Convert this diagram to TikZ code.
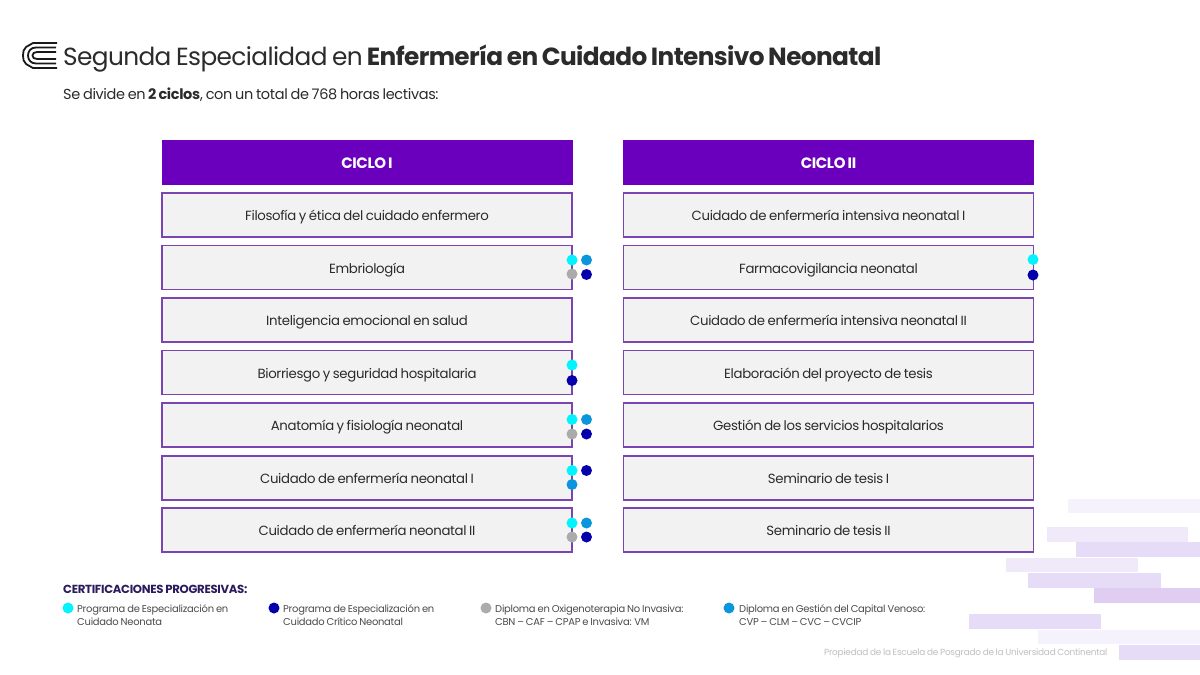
\documentclass[tikz,border=0pt]{standalone}
\usepackage{fontspec}
\setmainfont{Poppins}[LetterSpace=-2.5,WordSpace=0.78]
\definecolor{headp}{HTML}{6A00BE}
\definecolor{edgep}{HTML}{7A45B0}
\definecolor{boxf}{HTML}{F2F2F2}
\definecolor{ink}{HTML}{2B2B2B}
\definecolor{cya}{HTML}{00F5FF}
\definecolor{nav}{HTML}{0500AC}
\definecolor{gry}{HTML}{ABABAB}
\definecolor{blu}{HTML}{0A96DC}
\definecolor{headn}{HTML}{2C1A5E}
\definecolor{barA}{HTML}{F5F2FD}
\definecolor{barB}{HTML}{EFE9FA}
\definecolor{barC}{HTML}{E7DCF7}
\definecolor{barD}{HTML}{DFCEF2}
\tikzset{
  x=1pt,y=-1pt,
  head/.style={draw=headp,fill=headp,text=white,minimum width=410pt,minimum height=44pt,inner sep=0pt,text height=12pt,text depth=0pt,font=\fontsize{15}{16}\selectfont\bfseries},
  subj/.style={draw=edgep,line width=1.5pt,fill=boxf,text=ink,minimum width=410pt,minimum height=44pt,inner sep=0pt,text height=11pt,text depth=0pt,font=\fontsize{13.3}{16}\selectfont},
  dot/.style={circle,minimum size=11pt,inner sep=0pt,fill=#1},
  legend/.style={anchor=west,align=left,inner sep=0pt,text=ink!85,font=\fontsize{9.95}{13}\selectfont},
  bar/.style={fill=#1,draw=none},
  logoline/.style={draw=black!90,line width=1.8pt,line join=round}
}
\begin{document}
\begin{tikzpicture}
\useasboundingbox (0,0) rectangle (1200,675);
\fill[white] (0,0) rectangle (1200,675);
% background bars
\fill[bar=barA] (1068,499) rectangle (1200,513);
\fill[bar=barB] (1047,527) rectangle (1188,542);
\fill[bar=barC] (1076,542) rectangle (1200,557);
\fill[bar=barB] (1006,558) rectangle (1138,572);
\fill[bar=barC] (1028,573) rectangle (1161,588);
\fill[bar=barD] (1094,588) rectangle (1200,603);
\fill[bar=barC] (969,614) rectangle (1101,629);
\fill[bar=barA] (1038,630) rectangle (1200,644);
\fill[bar=barC] (1119,645) rectangle (1200,660);
% logo
\draw[logoline] (57,43) -- (33,43) -- (26,47) .. controls (23.5,49) and (23,52) .. (23,55.5) .. controls (23,59) and (23.5,62) .. (26,64) -- (33,68) -- (57,68);
\draw[logoline] (56,47.5) -- (36,47.5) .. controls (31,47.5) and (28,51) .. (28,55.5) .. controls (28,60) and (31,63.5) .. (36,63.5) -- (56,63.5);
\draw[logoline] (56,52) -- (37,52) .. controls (34,52) and (32.5,53.5) .. (32.5,55.5) .. controls (32.5,57.5) and (34,59) .. (37,59) -- (56,59);
% title
\node[anchor=base west,inner sep=0pt,text=ink] (title) at (63,65) {\fontsize{24.8}{28}\selectfont Segunda Especialidad en \textbf{Enfermería en Cuidado Intensivo Neonatal}};
\node[anchor=base west,inner sep=0pt,text=ink] (sub) at (63,99) {\fontsize{14.5}{16}\selectfont Se divide en \textbf{2 ciclos}, con un total de 768 horas lectivas:};
% column I
\node[head] (h1) at (367,162) {CICLO I};
\node[subj] (a1) at (367,215) {Filosofía y ética del cuidado enfermero};
\node[subj] (a2) at (367,267.5) {Embriología};
\node[subj] (a3) at (367,320) {Inteligencia emocional en salud};
\node[subj] (a4) at (367,372.5) {Biorriesgo y seguridad hospitalaria};
\node[subj] (a5) at (367,425) {Anatomía y fisiología neonatal};
\node[subj] (a6) at (367,478) {Cuidado de enfermería neonatal I};
\node[subj] (a7) at (367,530) {Cuidado de enfermería neonatal II};
% column II
\node[head] (h2) at (828.5,162) {CICLO II};
\node[subj] (b1) at (828.5,215) {Cuidado de enfermería intensiva neonatal I};
\node[subj] (b2) at (828.5,267.5) {Farmacovigilancia neonatal};
\node[subj] (b3) at (828.5,320) {Cuidado de enfermería intensiva neonatal II};
\node[subj] (b4) at (828.5,372.5) {Elaboración del proyecto de tesis};
\node[subj] (b5) at (828.5,425) {Gestión de los servicios hospitalarios};
\node[subj] (b6) at (828.5,478) {Seminario de tesis I};
\node[subj] (b7) at (828.5,530) {Seminario de tesis II};
% dots
\node[dot=cya] (d2a) at (572,260) {};
\node[dot=blu] (d2b) at (586.5,260) {};
\node[dot=gry] (d2c) at (572,274) {};
\node[dot=nav] (d2d) at (586.5,274.5) {};
\node[dot=cya] (d4a) at (572,365) {};
\node[dot=nav] (d4b) at (572,380.5) {};
\node[dot=cya] (d5a) at (572,419.5) {};
\node[dot=blu] (d5b) at (586.5,419.5) {};
\node[dot=gry] (d5c) at (572,434) {};
\node[dot=nav] (d5d) at (586.5,434) {};
\node[dot=cya] (d6a) at (572,470.5) {};
\node[dot=nav] (d6b) at (586.5,470.5) {};
\node[dot=blu] (d6c) at (572,484.5) {};
\node[dot=cya] (d7a) at (572,523) {};
\node[dot=blu] (d7b) at (586.5,523) {};
\node[dot=gry] (d7c) at (572,537) {};
\node[dot=nav] (d7d) at (586.5,537) {};
\node[dot=cya] (e2a) at (1033,259.5) {};
\node[dot=nav] (e2b) at (1033,275) {};
% legend
\node[anchor=base west,inner sep=0pt,text=headn] (lh) at (63,593) {\fontsize{11.7}{13}\selectfont\bfseries CERTIFICACIONES PROGRESIVAS:};
\node[dot=cya] (l1) at (68,608) {};
\node[dot=nav] (l2) at (274,608) {};
\node[dot=gry] (l3) at (486,608) {};
\node[dot=blu] (l4) at (729,608) {};
\node[legend] (t1) at (77,615.5) {Programa de Especialización en\\Cuidado Neonata};
\node[legend] (t2) at (283,615.5) {Programa de Especialización en\\Cuidado Crítico Neonatal};
\node[legend] (t3) at (495,615.5) {Diploma en Oxigenoterapia No Invasiva:\\CBN – CAF – CPAP e Invasiva: VM};
\node[legend] (t4) at (739,615.5) {Diploma en Gestión del Capital Venoso:\\CVP – CLM – CVC – CVCIP};
\node[anchor=base west,inner sep=0pt,text=black!25] (foot) at (824,655.5) {\fontsize{8.9}{11}\selectfont Propiedad de la Escuela de Posgrado de la Universidad Continental};
\end{tikzpicture}
\end{document}
